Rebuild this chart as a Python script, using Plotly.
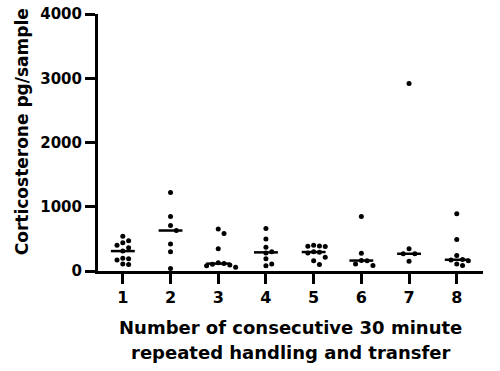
import numpy as np
import plotly.graph_objects as go

# ---- data ----
categories = [1, 2, 3, 4, 5, 6, 7, 8]
g1 = [540, 470, 440, 400, 360, 310, 200, 190, 170, 110, 100]
g2 = [1220, 850, 710, 630, 420, 300, 40]
g3 = [655, 585, 345, 130, 115, 105, 95, 80, 60]
g4 = [660, 500, 370, 300, 280, 190, 110, 80]
g5 = [400, 390, 385, 380, 300, 290, 280, 215, 160, 100]
g6 = [850, 275, 165, 160, 110, 85]
g7 = [2920, 345, 268, 268, 152]
g8 = [890, 490, 240, 180, 170, 160, 110, 85]
groups = [g1, g2, g3, g4, g5, g6, g7, g8]
y_ticks = [0, 1000, 2000, 3000, 4000]

# ---- layout geometry ----
W, H = 500, 371
ML, MR, MT, MB = 98, 17, 14, 100
XR = [0.48, 8.55]
YR = [0, 4000]
px_per_x = (W - ML - MR) / (XR[1] - XR[0])
px_per_y = (H - MT - MB) / (YR[1] - YR[0])
MS = 5  # marker size in px


def swarm(values):
    """Deterministic beeswarm offsets (in x-units) so dots don't overlap."""
    order = np.argsort(values)[::-1]
    placed = []
    offs = [0.0] * len(values)
    step = (MS + 0.8) / px_per_x
    cands = [0.0] + [s * n * step for n in range(1, 10) for s in (1, -1)]
    for i in order:
        v = values[i]
        for c in cands:
            ok = True
            for (pc, pv) in placed:
                dx = (c - pc) * px_per_x
                dy = (v - pv) * px_per_y
                if dx * dx + dy * dy < (MS + 0.6) ** 2:
                    ok = False
                    break
            if ok:
                offs[i] = c
                placed.append((c, v))
                break
    return offs


fig = go.Figure()
font_family = "DejaVu Sans"

for cat, vals in zip(categories, groups):
    offs = swarm(vals)
    fig.add_trace(go.Scatter(
        x=[cat + o for o in offs], y=vals, mode="markers",
        marker=dict(color="black", size=MS, symbol="circle"),
        showlegend=False, hoverinfo="y", cliponaxis=False))
    med = float(np.median(vals))
    fig.add_trace(go.Scatter(
        x=[cat - 0.25, cat + 0.25], y=[med, med], mode="lines",
        line=dict(color="black", width=2.5),
        showlegend=False, hoverinfo="skip", cliponaxis=False))

fig.update_layout(
    width=W, height=H,
    margin=dict(l=ML, r=MR, t=MT, b=MB, autoexpand=False),
    plot_bgcolor="white", paper_bgcolor="white",
    font=dict(family=font_family, color="black"),
)
fig.update_xaxes(
    range=XR, tickvals=categories, ticktext=[str(c) for c in categories],
    showline=True, linecolor="black", linewidth=3,
    ticks="outside", ticklen=10, tickwidth=3, tickcolor="black",
    showgrid=False, zeroline=False, automargin=False,
    tickfont=dict(family=font_family, size=16, color="black", weight="bold"),
)
fig.update_yaxes(
    range=YR, tickvals=y_ticks, ticktext=[str(t) for t in y_ticks],
    showline=True, linecolor="black", linewidth=3,
    ticks="outside", ticklen=10, tickwidth=3, tickcolor="black",
    showgrid=False, zeroline=False, automargin=False,
    tickfont=dict(family=font_family, size=15, color="black", weight="bold"),
)

fig.add_annotation(
    text="<b>Corticosterone pg/sample</b>", textangle=-90,
    xref="paper", yref="paper", x=0, y=0.54, xanchor="center", yanchor="middle",
    xshift=-(ML - 22), showarrow=False,
    font=dict(family=font_family, size=17, color="black"))
fig.add_annotation(
    text="<b>Number of consecutive 30 minute</b>",
    xref="paper", yref="paper", x=0.5, y=0, xanchor="center", yanchor="middle",
    yshift=-(327 - (H - MB)), showarrow=False,
    font=dict(family=font_family, size=18, color="black"))
fig.add_annotation(
    text="<b>repeated handling and transfer</b>",
    xref="paper", yref="paper", x=0.5, y=0, xanchor="center", yanchor="middle",
    yshift=-(352 - (H - MB)), showarrow=False,
    font=dict(family=font_family, size=18, color="black"))

fig.write_html("out.html", config={"displayModeBar": False},
               post_script="document.body.style.margin='0px';document.body.style.overflow='hidden';")
